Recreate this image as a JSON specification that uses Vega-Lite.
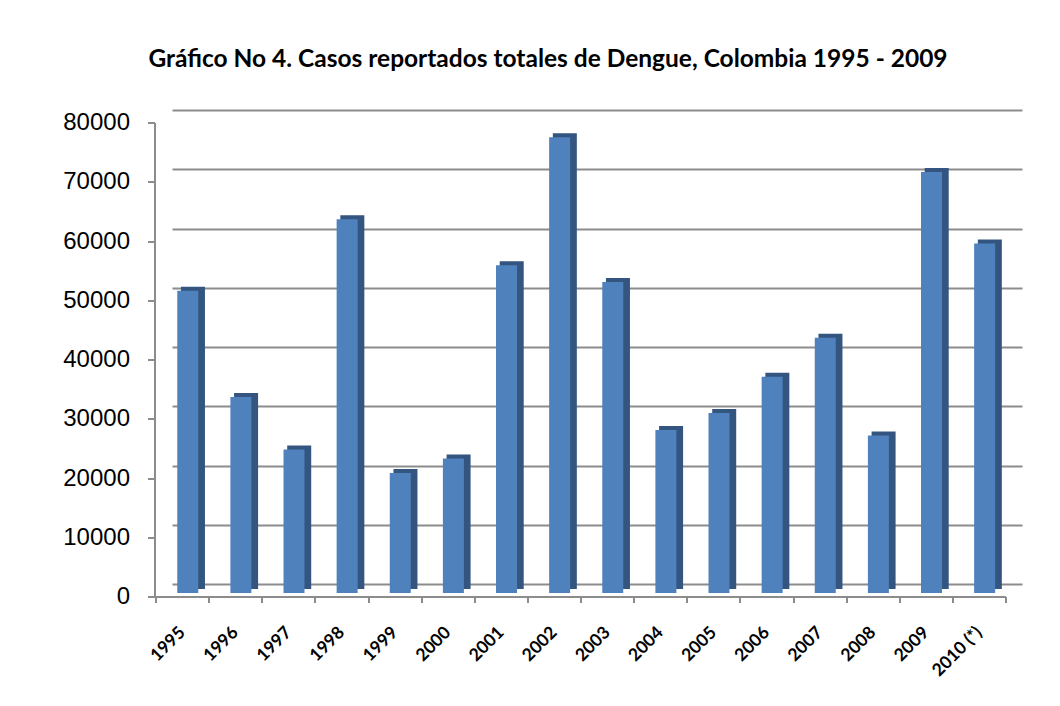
{
  "$schema": "https://vega.github.io/schema/vega-lite/v6.json",
  "width": 850,
  "height": 474,
  "autosize": {"type": "none"},
  "padding": {"left": 172, "top": 110, "right": 38, "bottom": 122},
  "background": "white",
  "title": {
    "text": "Gráfico No 4. Casos reportados totales de Dengue, Colombia 1995 - 2009",
    "font": "Lato",
    "fontSize": 24.5,
    "fontWeight": "bold",
    "color": "black",
    "anchor": "middle",
    "dx": -49,
    "offset": 7,
    "baseline": "alphabetic"
  },
  "config": {"view": {"stroke": null}},
  "data": {
    "values": [
      {"year": "1995", "cases": 51000},
      {"year": "1996", "cases": 33100},
      {"year": "1997", "cases": 24200},
      {"year": "1998", "cases": 63100},
      {"year": "1999", "cases": 20250},
      {"year": "2000", "cases": 22700},
      {"year": "2001", "cases": 55300},
      {"year": "2002", "cases": 76900},
      {"year": "2003", "cases": 52500},
      {"year": "2004", "cases": 27500},
      {"year": "2005", "cases": 30400},
      {"year": "2006", "cases": 36500},
      {"year": "2007", "cases": 43100},
      {"year": "2008", "cases": 26600},
      {"year": "2009", "cases": 71050},
      {"year": "2010 (*)", "cases": 59000}
    ]
  },
  "encoding": {
    "x": {
      "field": "year",
      "type": "nominal",
      "sort": null,
      "scale": {"paddingInner": 0, "paddingOuter": 0},
      "axis": {
        "orient": "bottom",
        "title": null,
        "offset": 29,
        "translate": -16,
        "domainColor": "#8c8c8c",
        "domainWidth": 2,
        "tickColor": "#8c8c8c",
        "tickWidth": 2,
        "tickSize": 6,
        "tickBand": "extent",
        "labelAngle": -45,
        "labelAlign": "right",
        "labelBaseline": "middle",
        "labelPadding": 27,
        "labelFont": "Lato",
        "labelFontWeight": "bold",
        "labelFontSize": 17.5,
        "labelColor": "black"
      }
    }
  },
  "layer": [
    {
      "mark": {"type": "bar", "color": "#34557f", "width": 24, "xOffset": -5.6, "yOffset": 5, "y2Offset": 5},
      "encoding": {
        "y": {
          "field": "cases",
          "type": "quantitative",
          "scale": {"domain": [0, 80000], "nice": false},
          "axis": {
            "orient": "left",
            "title": null,
            "grid": true,
            "gridColor": "#8c8c8c",
            "gridWidth": 2,
            "labels": false,
            "ticks": false,
            "domain": false,
            "values": [0, 10000, 20000, 30000, 40000, 50000, 60000, 70000, 80000]
          }
        }
      }
    },
    {
      "mark": {"type": "bar", "color": "#4f81bd", "width": 21, "xOffset": -10.8, "yOffset": 9, "y2Offset": 9},
      "encoding": {
        "y": {
          "field": "cases",
          "type": "quantitative",
          "scale": {"domain": [0, 80000], "nice": false},
          "axis": {
            "orient": "left",
            "title": null,
            "grid": false,
            "offset": 30,
            "translate": 13,
            "domainColor": "#8c8c8c",
            "domainWidth": 2,
            "tickColor": "#8c8c8c",
            "tickWidth": 2,
            "tickSize": 7,
            "labelPadding": 18,
            "labelFont": "Liberation Sans",
            "labelFontSize": 24,
            "labelColor": "black",
            "format": "d",
            "values": [0, 10000, 20000, 30000, 40000, 50000, 60000, 70000, 80000]
          }
        }
      }
    }
  ],
  "resolve": {"axis": {"y": "independent"}}
}
